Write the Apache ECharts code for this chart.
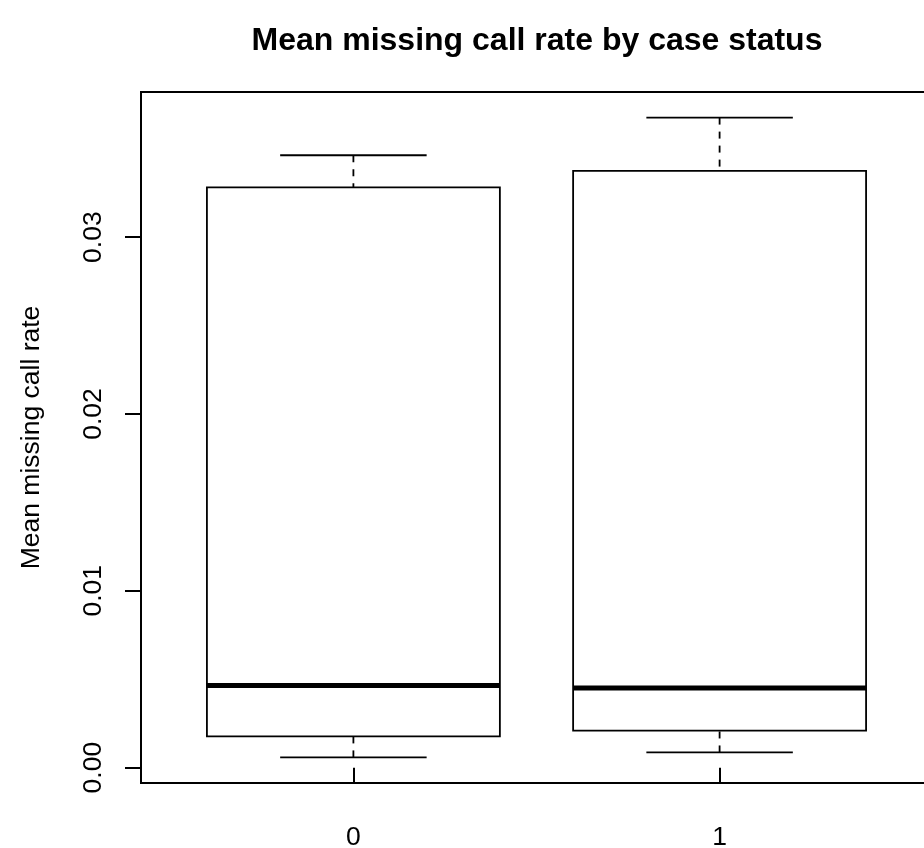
<!DOCTYPE html>
<html>
<head>
<meta charset="utf-8">
<script src="https://cdn.jsdelivr.net/npm/echarts@6/dist/echarts.min.js"></script>
<style>html,body{margin:0;padding:0;background:#fff;}#chart{width:924px;height:848px;}</style>
</head>
<body>
<div id="chart"></div>
<script>
// Data (R boxplot)
const categories = ['0', '1'];
const lowerWhisker = [0.00058, 0.00086];
const q1 = [0.00177, 0.00209];
const median = [0.00465, 0.00450];
const q3 = [0.03281, 0.03375];
const upperWhisker = [0.03463, 0.03676];
const yTicks = [0, 0.01, 0.02, 0.03];

const dataMin = Math.min(...lowerWhisker);
const dataMax = Math.max(...upperWhisker);
const pad = 0.04 * (dataMax - dataMin);

const seriesData = categories.map((c, i) => [i + 1, lowerWhisker[i], q1[i], median[i], q3[i], upperWhisker[i]]);

const chart = echarts.init(document.getElementById('chart'));
const FONT = 'Liberation Sans, Arial, Helvetica, sans-serif';

function renderItem(params, api) {
  const x = api.value(0);
  const lo = api.value(1), a = api.value(2), m = api.value(3), b = api.value(4), hi = api.value(5);
  const bw = 0.4, cw = 0.2;
  const pTL = api.coord([x - bw, b]);
  const pBR = api.coord([x + bw, a]);
  const pMedL = api.coord([x - bw, m]);
  const pMedR = api.coord([x + bw, m]);
  const pLo = api.coord([x, lo]);
  const pA = api.coord([x, a]);
  const pB = api.coord([x, b]);
  const pHi = api.coord([x, hi]);
  const capLoL = api.coord([x - cw, lo]), capLoR = api.coord([x + cw, lo]);
  const capHiL = api.coord([x - cw, hi]), capHiR = api.coord([x + cw, hi]);
  const solid = { stroke: '#000', lineWidth: 1.8, fill: null };
  const dashed = { stroke: '#000', lineWidth: 1.8, lineDash: [7, 7], fill: null };
  return {
    type: 'group',
    children: [
      { type: 'line', shape: { x1: pLo[0], y1: pLo[1], x2: pA[0], y2: pA[1] }, style: dashed },
      { type: 'line', shape: { x1: pHi[0], y1: pHi[1], x2: pB[0], y2: pB[1] }, style: dashed },
      { type: 'line', shape: { x1: capLoL[0], y1: capLoL[1], x2: capLoR[0], y2: capLoR[1] }, style: solid },
      { type: 'line', shape: { x1: capHiL[0], y1: capHiL[1], x2: capHiR[0], y2: capHiR[1] }, style: solid },
      { type: 'rect', shape: { x: pTL[0], y: pTL[1], width: pBR[0] - pTL[0], height: pBR[1] - pTL[1] },
        style: { stroke: '#000', lineWidth: 1.8, fill: 'none' } },
      { type: 'line', shape: { x1: pMedL[0], y1: pMedL[1], x2: pMedR[0], y2: pMedR[1] },
        style: { stroke: '#000', lineWidth: 5, fill: null } }
    ]
  };
}

chart.setOption({
  animation: false,
  backgroundColor: '#fff',
  title: {
    text: 'Mean missing call rate by case status',
    left: 537,
    textAlign: 'center',
    top: 25,
    padding: 0,
    textStyle: { fontFamily: FONT, fontSize: 32, fontWeight: 'bold', color: '#000' }
  },
  grid: {
    left: 141, top: 92, right: -8, bottom: 65,
    outerBoundsMode: 'none',
    containLabel: false,
    show: true, borderColor: '#000', borderWidth: 2, backgroundColor: 'transparent'
  },
  xAxis: {
    type: 'value',
    min: 0.42, max: 2.58,
    axisLine: { show: false },
    splitLine: { show: false },
    axisTick: { show: true, length: 16, customValues: [1, 2], lineStyle: { color: '#000', width: 2 } },
    axisLabel: {
      show: true, customValues: [1, 2], margin: 41,
      formatter: (v) => categories[Math.round(v) - 1],
      fontFamily: FONT, fontSize: 26.5, color: '#000'
    }
  },
  yAxis: {
    type: 'value',
    min: dataMin - pad, max: dataMax + pad,
    name: 'Mean missing call rate',
    nameLocation: 'middle',
    nameGap: 96,
    nameTextStyle: { fontFamily: FONT, fontSize: 26.5, color: '#000' },
    axisLine: { show: false },
    splitLine: { show: false },
    axisTick: { show: true, length: 16, customValues: yTicks, lineStyle: { color: '#000', width: 2 } },
    axisLabel: {
      show: true, customValues: yTicks, rotate: 90, margin: 34,
      formatter: (v) => v.toFixed(2),
      fontFamily: FONT, fontSize: 26.5, color: '#000'
    }
  },
  series: [{
    type: 'custom',
    renderItem: renderItem,
    encode: { x: 0, y: [1, 2, 3, 4, 5] },
    data: seriesData
  }]
});
</script>
</body>
</html>
